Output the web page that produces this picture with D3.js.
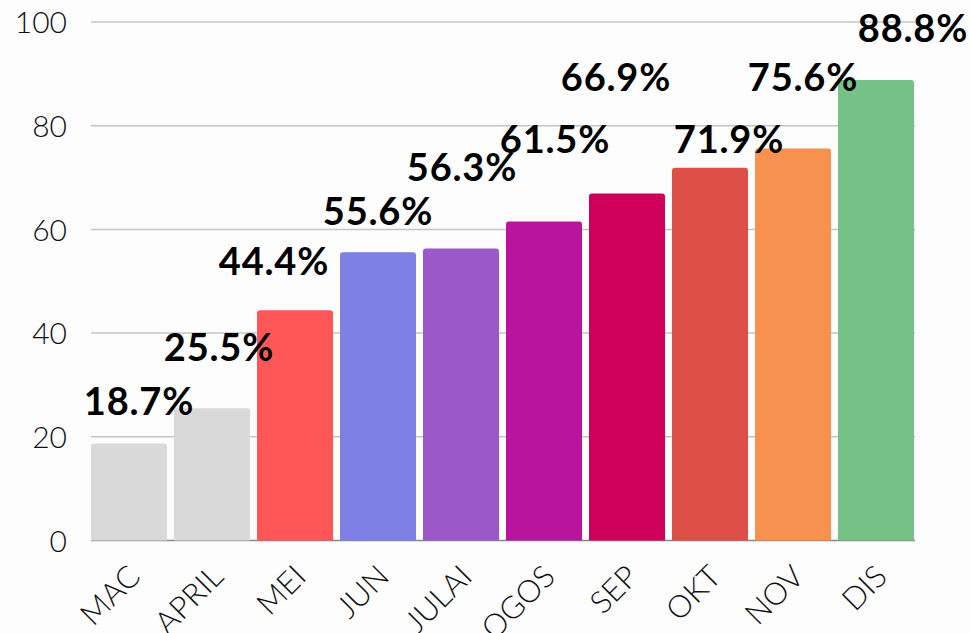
<!DOCTYPE html>
<html>
<head>
<meta charset="utf-8">
<script src="https://cdn.jsdelivr.net/npm/d3@7"></script>
<style>
  body { margin: 0; background: #fdfdfd; }
  svg { display: block; }
  .tick text { font-family: Lato, sans-serif; font-weight: 300; fill: #111; }
</style>
</head>
<body>
<svg id="canvas" width="970" height="633"></svg>
<script>
// months & percentages
let months = ['MAC', 'APRIL', 'MEI', 'JUN', 'JULAI', 'OGOS', 'SEP', 'OKT', 'NOV', 'DIS']
let percents = [18.7, 25.5, 44.4, 55.6, 56.3, 61.5, 66.9, 71.9, 75.6, 88.8]
let barColors = ['#d9d9d9', '#d9d9d9', '#ff5757', '#7f80e6', '#9b58c9', '#b8149e', '#cf0059', '#de5047', '#f69150', '#76c286']
let yTicks = [0, 20, 40, 60, 80, 100]

// where the value labels sit (baseline in data units, horizontal shift in px)
let labelAt = [24.2, 34.6, 51.2, 60.8, 69.4, 74.7, 86.7, 74.7, 86.7, 96.1]
let labelShift = [10, 7, -21, 0, 1, 11, -11, 19, 10, 37]

let canvas = d3.select('#canvas')

let xScale = d3.scaleBand()
                .domain(months)
                .range([91, 914])
                .paddingInner(0.084)
                .paddingOuter(0)

let yScale = d3.scaleLinear()
                .domain([0, 100])
                .range([540.5, 22])

// grid lines
canvas.append('g')
        .selectAll('line')
        .data(yTicks.slice(1))
        .enter()
        .append('line')
        .attr('x1', 91)
        .attr('x2', 915)
        .attr('y1', (t) => yScale(t))
        .attr('y2', (t) => yScale(t))
        .attr('stroke', '#c4c4c4')
        .attr('stroke-width', 1.5)

let yAxis = d3.axisLeft(yScale)
                .tickValues(yTicks)
                .tickSize(0)
                .tickPadding(24)

canvas.append('g')
        .attr('transform', 'translate(91, 0)')
        .call(yAxis)
        .call((g) => g.select('.domain').remove())
        .selectAll('text')
        .attr('font-size', 30)
        .attr('dy', '0.36em')

// baseline
canvas.append('line')
        .attr('x1', 91)
        .attr('x2', 915)
        .attr('y1', yScale(0))
        .attr('y2', yScale(0))
        .attr('stroke', '#888')
        .attr('stroke-width', 1.5)

let r = 3
let barPath = (m, v) => {
    let x0 = xScale(m)
    let x1 = x0 + xScale.bandwidth()
    let y0 = yScale(0)
    let y1 = yScale(v)
    return 'M' + x0 + ',' + y0 + 'V' + (y1 + r) + 'Q' + x0 + ',' + y1 + ' ' + (x0 + r) + ',' + y1 +
           'H' + (x1 - r) + 'Q' + x1 + ',' + y1 + ' ' + x1 + ',' + (y1 + r) + 'V' + y0 + 'Z'
}

canvas.append('g')
        .selectAll('path')
        .data(months)
        .enter()
        .append('path')
        .attr('d', (m, i) => barPath(m, percents[i]))
        .attr('fill', (m, i) => barColors[i])

let xAxis = d3.axisBottom(xScale)
                .tickSize(0)
                .tickPadding(0)

canvas.append('g')
        .attr('transform', 'translate(0, ' + yScale(0) + ')')
        .call(xAxis)
        .call((g) => g.select('.domain').remove())
        .selectAll('text')
        .attr('font-size', 31)
        .attr('text-anchor', 'end')
        .attr('dy', 0)
        .attr('transform', 'translate(13, 38) rotate(-45)')

canvas.append('g')
        .selectAll('text')
        .data(months)
        .enter()
        .append('text')
        .text((m, i) => percents[i] + '%')
        .attr('x', (m, i) => xScale(m) + xScale.bandwidth() / 2 + labelShift[i])
        .attr('y', (m, i) => yScale(labelAt[i]))
        .attr('text-anchor', 'middle')
        .attr('font-family', 'Lato, sans-serif')
        .attr('font-weight', 700)
        .attr('font-size', 38)
        .attr('letter-spacing', 0.8)
        .attr('fill', '#000')
</script>
</body>
</html>
